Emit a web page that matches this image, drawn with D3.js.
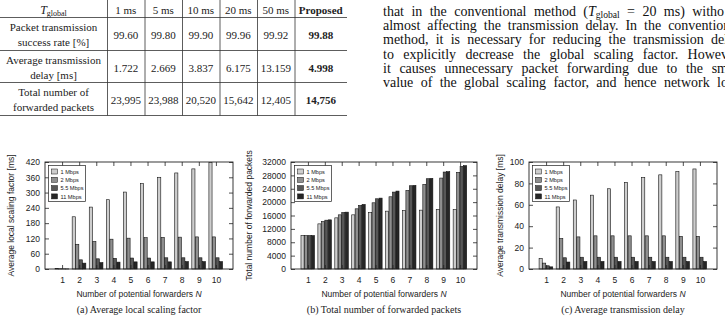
<!DOCTYPE html>
<html>
<head>
<meta charset="utf-8">
<script src="https://cdn.jsdelivr.net/npm/d3@7"></script>
<style>
  body { margin: 0; background: #fff; }
  svg { display: block; }
</style>
</head>
<body>
<div class="canvas"></div>
<script>
// ---- data ----
const forwarders = [1, 2, 3, 4, 5, 6, 7, 8, 9, 10];
const rates = ["1 Mbps", "2 Mbps", "5.5 Mbps", "11 Mbps"];
const rateColors = ["#cdcdcd", "#8f8f8f", "#575757", "#262626"];

// (a) average local scaling factor [ms]
const scaling_1 = [2, 205, 243, 272, 302, 335, 360, 377, 393, 418];
const scaling_2 = [1, 97, 108, 117, 121, 123, 124, 125, 126, 126];
const scaling_55 = [0.6, 36, 40, 42, 43, 43, 44, 44, 44, 44];
const scaling_11 = [0.4, 23, 25, 27, 28, 28, 28, 29, 29, 29];
const scalingTicks = [0, 60, 120, 180, 240, 300, 360, 420];

// (b) total number of forwarded packets
const packets_1 = [10000, 13500, 15300, 16200, 16900, 17300, 17500, 17600, 17800, 17800];
const packets_2 = [10000, 14200, 16200, 18000, 19800, 21600, 23500, 25300, 27200, 28900];
const packets_55 = [10000, 14600, 16900, 19000, 21000, 23000, 24900, 27000, 29000, 30700];
const packets_11 = [10000, 14700, 17000, 19300, 21200, 23300, 25000, 27100, 29100, 30900];
const packetTicks = [0, 4000, 8000, 12000, 16000, 20000, 24000, 28000, 32000];

// (c) average transmission delay [ms]
const delay_1 = [10, 58, 64.5, 69, 75, 81, 85.5, 88, 91, 93.5];
const delay_2 = [5.5, 28.5, 30, 31, 31, 31, 31, 31, 30.5, 30.5];
const delay_55 = [3, 10.5, 11, 11, 11, 11, 11, 11, 11, 11];
const delay_11 = [2, 6.5, 7, 7, 7, 7, 7, 7, 7, 7];
const delayTicks = [0, 20, 40, 60, 80, 100];

// table
const tableHeads = ["1 ms", "5 ms", "10 ms", "20 ms", "50 ms", "Proposed"];
const rowLabels = [
  ["Packet transmission", "success rate [%]"],
  ["Average transmission", "delay [ms]"],
  ["Total number of", "forwarded packets"]
];
const successRate = ["99.60", "99.80", "99.90", "99.96", "99.92", "99.88"];
const avgDelay = ["1.722", "2.669", "3.837", "6.175", "13.159", "4.998"];
const forwardedTotal = ["23,995", "23,988", "20,520", "15,642", "12,405", "14,756"];

// paragraph lines (cut at the page edge)
const textLines = [
  "that in the conventional method (T= 20 ms) witho",
  "almost affecting the transmission delay. In the conventior",
  "method, it is necessary for reducing the transmission del",
  "to explicitly decrease the global scaling factor. Howev",
  "it causes unnecessary packet forwarding due to the sm",
  "value of the global scaling factor, and hence network lo"
];

const width = 725;
const height = 320;

const svg = d3
  .select(".canvas")
  .append("svg")
  .attr("width", width)
  .attr("height", height)
  .style("font-family", "'Liberation Serif', 'Times New Roman', serif");

// ---- table ----
const colEdges = [0, 107, 144.5, 182, 219.5, 257, 294.5, 347];
const rowLines = [17, 50, 82, 115];
const rowTop = [17, 50, 82];
const table = svg.append("g").attr("class", "table").style("font-size", "11px").attr("fill", "#222");

rowLines.forEach((yy) => {
  table.append("line")
    .attr("x1", 0).attr("x2", colEdges[colEdges.length - 1])
    .attr("y1", yy + 0.5).attr("y2", yy + 0.5)
    .attr("stroke", "#333").attr("stroke-width", 0.8);
});
colEdges.slice(1, -1).forEach((xx) => {
  table.append("line")
    .attr("x1", xx + 0.5).attr("x2", xx + 0.5)
    .attr("y1", 0).attr("y2", 115.5)
    .attr("stroke", "#333").attr("stroke-width", 0.8);
});

const colCenter = (i) => (colEdges[i] + colEdges[i + 1]) / 2;

// header row
const tHead = table.append("text").attr("x", colCenter(0)).attr("y", 14).attr("text-anchor", "middle");
tHead.append("tspan").style("font-style", "italic").style("font-size", "12px").text("T");
tHead.append("tspan").attr("dy", 2).style("font-size", "8px").text("global");
tableHeads.forEach((h, i) => {
  table.append("text")
    .attr("x", colCenter(i + 1)).attr("y", 14)
    .attr("text-anchor", "middle")
    .style("font-weight", i === 5 ? "bold" : "normal")
    .text(h);
});

const rowData = [successRate, avgDelay, forwardedTotal];
rowLabels.forEach((lbl, r) => {
  table.append("text").attr("x", colCenter(0)).attr("y", rowTop[r] + 14).attr("text-anchor", "middle").text(lbl[0]);
  table.append("text").attr("x", colCenter(0)).attr("y", rowTop[r] + 29).attr("text-anchor", "middle").text(lbl[1]);
  rowData[r].forEach((v, i) => {
    table.append("text")
      .attr("x", colCenter(i + 1)).attr("y", rowTop[r] + 21.5)
      .attr("text-anchor", "middle")
      .style("font-weight", i === 5 ? "bold" : "normal")
      .text(v);
  });
});

// ---- paragraph ----
const para = svg.append("g").style("font-size", "14px").attr("fill", "#111");
const paraX = 383;
const paraRight = 728;
textLines.forEach((ln, i) => {
  const t = para.append("text").attr("x", paraX).attr("y", 16 + i * 14.2);
  if (i === 0) {
    const parts = ln.split("T=");
    t.append("tspan").text(parts[0]);
    t.append("tspan").style("font-style", "italic").text("T");
    t.append("tspan").attr("dy", 2).style("font-size", "9.6px").text("global");
    t.append("tspan").attr("dy", -2).text(" = " + parts[1].trim());
  } else {
    t.text(ln);
  }
  // justify: spread the remaining room over the word gaps
  const natural = t.node().getComputedTextLength();
  const spaces = (i === 0 ? ln.replace("T=", "T = ") : ln).split(" ").length - 1;
  t.style("word-spacing", Math.max(0, (paraRight - paraX - natural) / spaces) + "px");
});

// ---- bar charts ----
const plotTop = 162;
const plotBottom = 269;

const charts = [
  {
    left: 45, right: 233,
    series: [scaling_1, scaling_2, scaling_55, scaling_11],
    ticks: scalingTicks,
    yTitle: "Average local scaling factor [ms]", titleX: 14,
    caption: "(a) Average local scaling factor"
  },
  {
    left: 291, right: 477,
    series: [packets_1, packets_2, packets_55, packets_11],
    ticks: packetTicks,
    yTitle: "Total number of forwarded packets", titleX: 252,
    caption: "(b) Total number of forwarded packets"
  },
  {
    left: 529, right: 717,
    series: [delay_1, delay_2, delay_55, delay_11],
    ticks: delayTicks,
    yTitle: "Average transmission delay [ms]", titleX: 503,
    caption: "(c) Average transmission delay"
  }
];

charts.forEach((c) => {
  const g = svg.append("g").style("font-family", "'Liberation Sans', Arial, sans-serif");

  //scales
  const x = d3.scaleLinear().domain([0, 11]).range([c.left, c.right]);
  const y = d3.scaleLinear().domain([0, d3.max(c.ticks)]).range([plotBottom, plotTop]);

  const step = x(1) - x(0);
  const barStep = step * 0.205;
  const barW = barStep - 0.35;

  // bars
  c.series.forEach((vals, s) => {
    g.append("g")
      .selectAll("rect")
      .data(vals)
      .enter()
      .append("rect")
      .attr("x", (d, i) => x(forwarders[i]) - 2 * barStep + s * barStep)
      .attr("y", (d) => y(d))
      .attr("width", barW)
      .attr("height", (d) => plotBottom - y(d))
      .attr("fill", rateColors[s])
      .attr("stroke", "#111")
      .attr("stroke-width", 0.6);
  });

  //axes
  const yLeft = d3.axisLeft(y).tickValues(c.ticks).tickSize(-4).tickPadding(5).tickFormat(d3.format("d"));
  const yRight = d3.axisRight(y).tickValues(c.ticks).tickSize(-4).tickFormat("");
  const xBottom = d3.axisBottom(x).tickValues(forwarders).tickSize(-4).tickPadding(8);
  const xTop = d3.axisTop(x).tickValues(forwarders).tickSize(-4).tickFormat("");

  const axes = [
    g.append("g").attr("transform", `translate(${c.left},0)`).call(yLeft),
    g.append("g").attr("transform", `translate(${c.right},0)`).call(yRight),
    g.append("g").attr("transform", `translate(0,${plotBottom})`).call(xBottom),
    g.append("g").attr("transform", `translate(0,${plotTop})`).call(xTop)
  ];
  axes.forEach((a) => {
    a.select(".domain").remove();
    a.selectAll("line").attr("stroke", "#222").attr("stroke-width", 0.8);
    a.selectAll("text").style("font-size", "8.5px").attr("fill", "#222");
  });

  // frame
  g.append("rect")
    .attr("x", c.left).attr("y", plotTop)
    .attr("width", c.right - c.left).attr("height", plotBottom - plotTop)
    .attr("fill", "none").attr("stroke", "#222").attr("stroke-width", 0.9);

  // legend
  const lg = g.append("g").attr("transform", `translate(${c.left + 3.5},${plotTop + 3.5})`);
  lg.append("rect").attr("width", 37).attr("height", 36)
    .attr("fill", "#fff").attr("stroke", "#222").attr("stroke-width", 0.7);
  rates.forEach((r, i) => {
    lg.append("rect")
      .attr("x", 3).attr("y", 3.5 + i * 8.3)
      .attr("width", 6).attr("height", 5)
      .attr("fill", rateColors[i]).attr("stroke", "#111").attr("stroke-width", 0.5);
    lg.append("text")
      .attr("x", 12).attr("y", 8.3 + i * 8.3)
      .style("font-size", "5.6px").attr("fill", "#222")
      .text(r);
  });

  // axis titles
  const xt = g.append("text")
    .attr("x", (c.left + c.right) / 2).attr("y", 297)
    .attr("text-anchor", "middle").style("font-size", "8.5px").attr("fill", "#222");
  xt.append("tspan").text("Number of potential forwarders ");
  xt.append("tspan").style("font-style", "italic").text("N");

  g.append("text")
    .attr("transform", `translate(${c.titleX},${(plotTop + plotBottom) / 2}) rotate(-90)`)
    .attr("text-anchor", "middle").style("font-size", "8.5px").attr("fill", "#222")
    .text(c.yTitle);

  // caption
  svg.append("text")
    .attr("x", (c.left + c.right) / 2).attr("y", 313)
    .attr("text-anchor", "middle").style("font-size", "10px").attr("fill", "#222")
    .text(c.caption);
});
</script>
</body>
</html>
